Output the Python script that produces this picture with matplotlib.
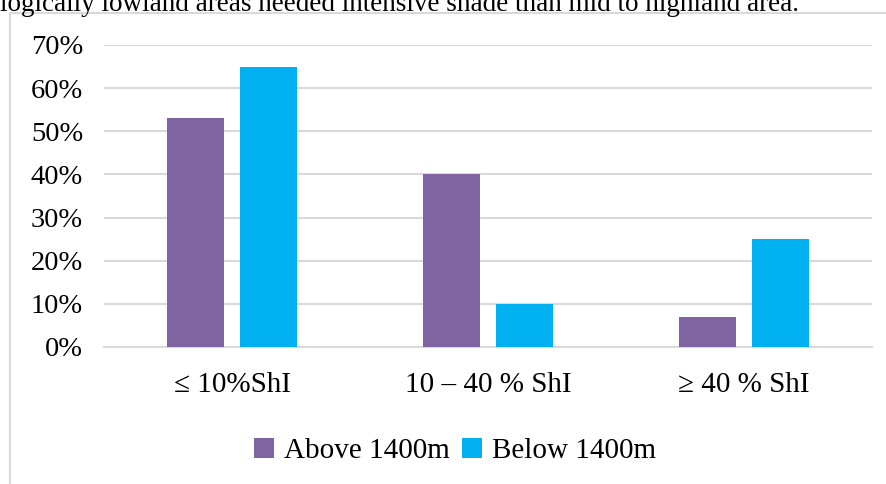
import matplotlib
matplotlib.use("Agg")
import matplotlib.pyplot as plt
import numpy as np
from matplotlib.lines import Line2D

# ── data ─────────────────────────────────────────────────────────
categories = ["\u2264 10%ShI", "10 \u2013 40 % ShI", "\u2265 40 % ShI"]
above_1400 = [0.53, 0.40, 0.07]
below_1400 = [0.65, 0.10, 0.25]
y_ticks = [0.0, 0.1, 0.2, 0.3, 0.4, 0.5, 0.6, 0.7]
y_labels = ["0%", "10%", "20%", "30%", "40%", "50%", "60%", "70%"]
caption = "logically lowland areas needed intensive shade than mid to highland area."

PURPLE = "#8064A2"
BLUE = "#00B0F0"
GRID = "#D9D9D9"

plt.rcParams["font.family"] = ["Liberation Serif", "DejaVu Serif"]

W, H = 886, 484
fig = plt.figure(figsize=(W / 100, H / 100), dpi=100)

# frame of the embedded chart + clipped caption line above it
fig.add_artist(Line2D([10 / W, 1], [1 - 13 / H, 1 - 13 / H], color=GRID, lw=1.5))
fig.add_artist(Line2D([10 / W, 10 / W], [0, 1 - 13 / H], color=GRID, lw=1.5))
fig.text(0.0, 1 - 11 / H, caption, fontsize=19.5, ha="left", va="baseline")

ax = fig.add_axes([104 / W, (H - 347) / H, 768 / W, 302 / H])
x = np.arange(len(categories))
bw = 0.223
ax.bar(x - 0.141, above_1400, bw, color=PURPLE, label="Above 1400m", zorder=3)
ax.bar(x + 0.143, below_1400, bw, color=BLUE, label="Below 1400m", zorder=3)

ax.set_xlim(-0.5, 2.5)
ax.set_ylim(0, 0.7)
ax.set_yticks(y_ticks)
ax.set_yticklabels(y_labels, fontsize=20.5)
ax.set_xticks(x)
ax.set_xticklabels(categories, fontsize=21)
ax.tick_params(axis="y", length=0, pad=15)
ax.tick_params(axis="x", length=0, pad=18)
ax.yaxis.grid(True, color=GRID, lw=1.5, zorder=0)
for s in ["top", "right", "left"]:
    ax.spines[s].set_visible(False)
ax.spines["bottom"].set_color(GRID)
ax.spines["bottom"].set_linewidth(1.5)

ax.legend(loc="center", bbox_to_anchor=(455 / W, 1 - 451 / H),
          bbox_transform=fig.transFigure, ncol=2, frameon=False,
          fontsize=21, handlelength=0.68, handleheight=0.68,
          handletextpad=0.35, columnspacing=0.4)

fig.savefig("out.png", dpi=100)
